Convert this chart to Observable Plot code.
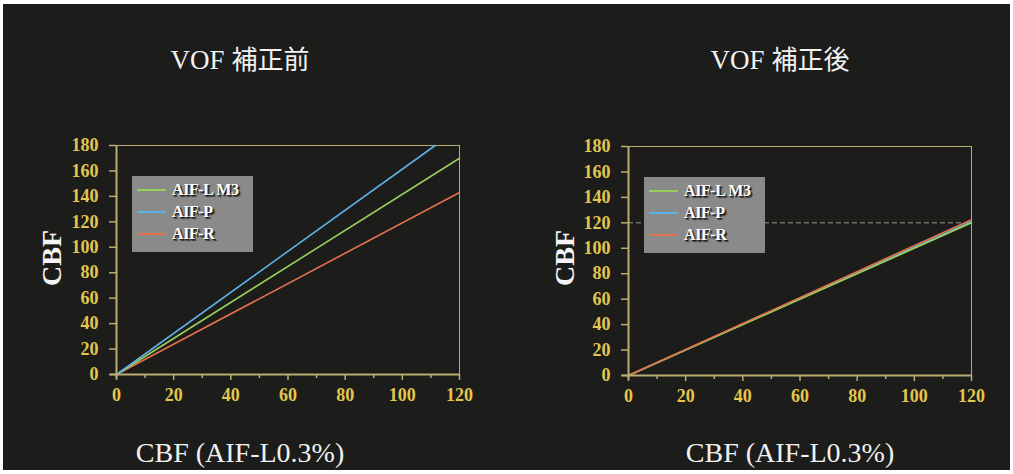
<!DOCTYPE html>
<html>
<head>
<meta charset="utf-8">
<script src="https://cdn.jsdelivr.net/npm/d3@7"></script>
<script src="https://cdn.jsdelivr.net/npm/@observablehq/plot@0.6"></script>
<style>
  html, body { margin: 0; padding: 0; background: #ffffff; }
  #stage { position: relative; width: 1013px; height: 474px; overflow: hidden; background: #ffffff; }
  #bg { position: absolute; left: 3px; top: 4px; width: 1007px; height: 466px; background: #1c1c1a; }
  .abs { position: absolute; }
  .title { color: #f2f2f2; font-family: "Liberation Serif", "Noto Sans CJK JP", serif; font-size: 27px; white-space: nowrap; transform: translate(-50%, -50%); }
  .title .jp { font-family: "Noto Sans CJK JP", sans-serif; font-size: 26px; }
  .ylab { color: #f4f4f4; font-family: "Liberation Serif", serif; font-weight: bold; font-size: 28px; white-space: nowrap; transform: translate(-50%, -50%) rotate(-90deg); }
  .xlab { color: #f0f0f0; font-family: "Liberation Serif", serif; font-size: 28px; white-space: nowrap; transform: translate(-50%, -50%); }
  .legend { background: #8a8a8a; }
  .legend .row { position: absolute; left: 0; height: 20px; width: 100%; }
  .legend .sw { position: absolute; top: 9px; height: 2px; }
  .legend .tx { position: absolute; top: 0; color: #ffffff; font-family: "Liberation Serif", serif; font-weight: bold; font-size: 16px; line-height: 20px; text-shadow: 1px 1px 0 #222, 2px 2px 1px #333; white-space: nowrap; letter-spacing: -0.4px; }
</style>
</head>
<body>
<div id="stage"><div id="bg"></div></div>
<script>
// ---- data ----
const seriesNames = ["AIF-L M3", "AIF-P", "AIF-R"];
const seriesColors = ["#98d05a", "#5eb0e5", "#e2714c"];
const titles = ["VOF 補正前", "VOF 補正後"];
const yLabel = "CBF";
const xLabel = "CBF (AIF-L0.3%)";
const xTicks = [0, 20, 40, 60, 80, 100, 120];
const xMinorTicks = [10, 30, 50, 70, 90, 110];
const yTicks = [0, 20, 40, 60, 80, 100, 120, 140, 160, 180];
// endpoints (x, y) of each regression line
const beforeX = { "AIF-L M3": [0, 120], "AIF-P": [0, 111.5], "AIF-R": [0, 120] };
const beforeY = { "AIF-L M3": [0, 170], "AIF-P": [0, 180], "AIF-R": [0, 143] };
const afterX = { "AIF-L M3": [0, 120], "AIF-P": [0, 120], "AIF-R": [0, 120] };
const afterY = { "AIF-L M3": [0, 120], "AIF-P": [0, 121], "AIF-R": [0, 122.5] };
const afterRefY = [120];

// ---- style ----
const axisColor = "#b9ad72";
const tickTextColor = "#e3c64e";
const serif = "Liberation Serif, Times New Roman, serif";

function toRows(xs, ys, order) {
  const rows = [];
  for (const s of order) xs[s].forEach((x, i) => rows.push({ series: s, x, y: ys[s][i] }));
  return rows;
}

function makePlot(rows, extra) {
  return Plot.plot({
    width: 500, height: 290,
    marginLeft: 116, marginRight: 41, marginTop: 15, marginBottom: 46,
    style: { background: "transparent", overflow: "visible" },
    x: { domain: [0, 120] },
    y: { domain: [0, 180] },
    color: { domain: seriesNames, range: seriesColors },
    marks: [
      Plot.frame({ stroke: axisColor, strokeWidth: 1 }),
      ...extra,
      Plot.line(rows, { x: "x", y: "y", z: "series", stroke: "series", strokeWidth: 1.6 }),
      Plot.ruleY([0], { x1: -2.2, x2: 120, stroke: axisColor, strokeWidth: 2 }),
      Plot.ruleX([0], { y1: -3.5, y2: 180, stroke: axisColor, strokeWidth: 2 }),
      Plot.axisX({ ticks: xTicks, tickSize: 6, tickPadding: 8, stroke: axisColor, strokeWidth: 1.5, fill: tickTextColor,
        fontSize: 18, fontWeight: "bold", fontFamily: serif, label: null, tickFormat: d => String(d) }),
      Plot.axisX({ ticks: xMinorTicks, tickSize: 4, stroke: axisColor, strokeWidth: 1.5, tickFormat: () => "", label: null }),
      Plot.axisY({ ticks: yTicks, tickSize: 7, tickPadding: 11, stroke: axisColor, strokeWidth: 1.5, fill: tickTextColor,
        fontSize: 18, fontWeight: "bold", fontFamily: serif, label: null, tickFormat: d => String(d) })
    ]
  });
}

const stage = document.getElementById("stage");
function place(el, left, top) { el.style.left = left + "px"; el.style.top = top + "px"; stage.appendChild(el); }

function addLegend(left, top) {
  const box = document.createElement("div");
  box.className = "abs legend";
  box.style.width = "121px"; box.style.height = "76px";
  seriesNames.forEach((s, i) => {
    const row = document.createElement("div");
    row.className = "row";
    row.style.top = (4 + i * 22) + "px";
    const sw = document.createElement("div");
    sw.className = "sw";
    sw.style.left = "5px"; sw.style.width = "29px"; sw.style.background = seriesColors[i];
    const tx = document.createElement("div");
    tx.className = "tx";
    tx.style.left = "40px";
    tx.textContent = s;
    row.appendChild(sw); row.appendChild(tx);
    box.appendChild(row);
  });
  place(box, left, top);
}

function addText(cls, html, cx, cy) {
  const d = document.createElement("div");
  d.className = "abs " + cls;
  d.innerHTML = html;
  place(d, cx, cy);
}

// left panel
const left = makePlot(toRows(beforeX, beforeY, ["AIF-R", "AIF-L M3", "AIF-P"]), []);
left.style.position = "absolute";
place(left, 0, 130);
// right panel
const right = makePlot(toRows(afterX, afterY, ["AIF-P", "AIF-L M3", "AIF-R"]),
  [Plot.ruleY(afterRefY, { stroke: "#8f9a82", strokeWidth: 1, strokeDasharray: "5,3" })]);
right.style.position = "absolute";
place(right, 512, 131);

addLegend(132, 176);
addLegend(644, 177);

const [pre, jpPre] = titles[0].split(" ");
const [post, jpPost] = titles[1].split(" ");
addText("title", pre + " <span class='jp'>" + jpPre + "</span>", 240, 57);
addText("title", post + " <span class='jp'>" + jpPost + "</span>", 780, 57);
addText("ylab", yLabel, 52, 258);
addText("ylab", yLabel, 565, 258);
addText("xlab", xLabel, 240, 453);
addText("xlab", xLabel, 790, 453);
</script>
</body>
</html>
